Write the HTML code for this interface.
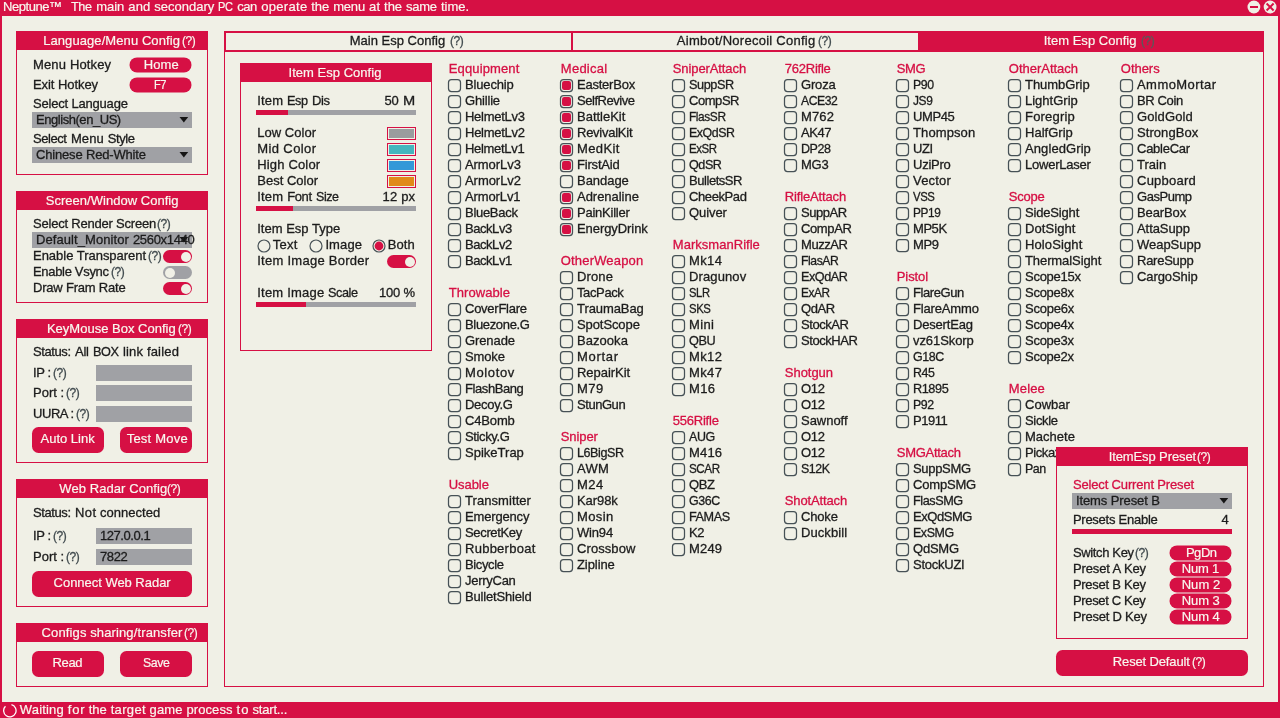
<!DOCTYPE html>
<html lang="en"><head><meta charset="utf-8"><title>Neptune</title>
<style>
*{box-sizing:border-box;margin:0;padding:0}
html,body{width:1280px;height:718px;overflow:hidden;background:#F0F0E6}
body{position:relative;font-family:"Liberation Sans",sans-serif;font-size:13px;color:#1c1c1c;line-height:16px;white-space:nowrap}
.a{position:absolute}
.t{position:absolute;height:16px;line-height:16px;white-space:pre;transform-origin:0 50%;-webkit-text-stroke:0.3px}
.s{display:inline-block;vertical-align:top;height:16px;transform-origin:0 50%;white-space:pre}
.r{color:#D61044}
.w{color:#F8F8EF;-webkit-text-stroke:0.2px}
.q{color:#3f494d}
.pn{position:absolute;border:1px solid #D61044}
.ph{position:absolute;left:0;top:0;right:0;height:18px;background:#D61044}
.btn{position:absolute;background:#D61044}
.sel{position:absolute;background:#A0A1A5;height:16px}
.arr{position:absolute;width:0;height:0;border-left:4.4px solid transparent;border-right:4.4px solid transparent;border-top:5.6px solid #151515}
.cb{position:absolute;width:13px;height:13px;border:1px solid #495358;border-radius:3px}
.cb.on::after{content:"";position:absolute;left:1px;top:1px;width:9px;height:9px;background:#D61044;border-radius:2.5px}
.tg{position:absolute;width:29px;margin-left:-1px;height:13px;border-radius:6.5px;background:#D61044}
.tg::after{content:"";position:absolute;right:1.5px;top:1.5px;width:10px;height:10px;border-radius:50%;background:#F0F0E6}
.tg.off{background:#A0A1A5}
.tg.off::after{right:auto;left:1.5px}
.sl{position:absolute;height:5px;background:#A0A1A5}
.sl i{position:absolute;left:0;top:0;height:5px;background:#D61044}
.sw{position:absolute;width:29px;height:13px;border:1px solid #D61044;padding:1px;background:#F0F0E6}
.sw i{display:block;width:100%;height:100%}
.rd{position:absolute;width:13px;height:13px;border:1px solid #4d5052;border-radius:50%}
.rd.on::after{content:"";position:absolute;left:1px;top:1px;width:9px;height:9px;border-radius:50%;background:#D61044}
</style></head>
<body>
<div class="a" style="left:0;top:0;width:1280px;height:16px;background:#D61044"></div>
<div class="a" style="left:0;top:0;width:2px;height:718px;background:#D61044"></div>
<div class="a" style="left:1278px;top:0;width:2px;height:718px;background:#D61044"></div>
<div class="a" style="left:0;top:702px;width:1280px;height:16px;background:#D61044"></div>
<svg class="a" style="left:1246px;top:0" width="32" height="14" viewBox="0 0 32 14"><circle cx="7.9" cy="7" r="6.4" fill="#F0F0E6"/><rect x="4" y="6" width="8" height="2" fill="#D61044"/><circle cx="24.1" cy="7" r="6.4" fill="#F0F0E6"/><path d="M20.6 3.5 L27.6 10.5 M27.6 3.5 L20.6 10.5" stroke="#D61044" stroke-width="1.9" fill="none"/></svg>
<svg class="a" style="left:3px;top:703px" width="15" height="15" viewBox="0 0 15 15"><path d="M8.45 1.7 A6.2 6.2 0 1 1 2.47 3.3" stroke="#fff" stroke-width="1.3" fill="none"/></svg>
<div class="pn" style="left:16px;top:31px;width:192px;height:144px"><div class="ph"></div></div>
<div class="btn" style="left:129px;top:57px;width:62.3px;height:15px;border-radius:7.5px;transform:translate(0.5px,0.4px)"></div>
<div class="btn" style="left:129px;top:77px;width:62.3px;height:15px;border-radius:7.5px;transform:translate(0.5px,0.4px)"></div>
<div class="sel" style="left:32px;top:112px;width:160px"></div>
<svg class="a" style="left:179px;top:116px" width="10" height="8" viewBox="0 0 10 8"><path d="M0.5 0.9 L9.2 0.9 L4.85 6.5 Z" fill="#151515"/></svg>
<div class="sel" style="left:32px;top:147px;width:160px"></div>
<svg class="a" style="left:179px;top:151px" width="10" height="8" viewBox="0 0 10 8"><path d="M0.5 0.9 L9.2 0.9 L4.85 6.5 Z" fill="#151515"/></svg>
<div class="pn" style="left:16px;top:191px;width:192px;height:112px"><div class="ph"></div></div>
<div class="sel" style="left:32px;top:232px;width:160px"></div>
<svg class="a" style="left:179px;top:236px" width="10" height="8" viewBox="0 0 10 8"><path d="M0.5 0.9 L9.2 0.9 L4.85 6.5 Z" fill="#151515"/></svg>
<div class="tg" style="left:164px;top:250px"></div>
<div class="tg off" style="left:164px;top:266px"></div>
<div class="tg" style="left:164px;top:282px"></div>
<div class="pn" style="left:16px;top:319px;width:192px;height:144px"><div class="ph"></div></div>
<div class="sel" style="left:96px;top:365px;width:96px"></div>
<div class="sel" style="left:96px;top:385px;width:96px"></div>
<div class="sel" style="left:96px;top:406px;width:96px"></div>
<div class="btn" style="left:32px;top:427px;width:72px;height:26px;border-radius:6.5px;"></div>
<div class="btn" style="left:120px;top:427px;width:72px;height:26px;border-radius:6.5px;"></div>
<div class="pn" style="left:16px;top:479px;width:192px;height:128px"><div class="ph"></div></div>
<div class="sel" style="left:96px;top:528px;width:96px"></div>
<div class="sel" style="left:96px;top:549px;width:96px"></div>
<div class="btn" style="left:32px;top:571px;width:160px;height:26px;border-radius:6.5px;"></div>
<div class="pn" style="left:16px;top:623px;width:192px;height:64px"><div class="ph"></div></div>
<div class="btn" style="left:32px;top:651px;width:72px;height:26px;border-radius:6.5px;"></div>
<div class="btn" style="left:120px;top:651px;width:72px;height:26px;border-radius:6.5px;"></div>
<div class="pn" style="left:224px;top:31px;width:1040px;height:656px"></div>
<div class="a" style="left:224px;top:31px;width:1040px;height:21px;border:2px solid #D61044"></div>
<div class="a" style="left:571px;top:31px;width:2px;height:21px;background:#D61044"></div>
<div class="a" style="left:918px;top:31px;width:346px;height:21px;background:#D61044"></div>
<div class="pn" style="left:240px;top:63px;width:192px;height:288px"><div class="ph"></div></div>
<div class="sl" style="left:256px;top:110px;width:160px"><i style="width:32px"></i></div>
<div class="sw" style="left:387px;top:127px"><i style="background:#9A9C9E"></i></div>
<div class="sw" style="left:387px;top:143px"><i style="background:#45B5BE"></i></div>
<div class="sw" style="left:387px;top:159px"><i style="background:#3398D8"></i></div>
<div class="sw" style="left:387px;top:175px"><i style="background:#E08A18"></i></div>
<div class="sl" style="left:256px;top:206px;width:160px"><i style="width:37px"></i></div>
<svg class="a" style="left:255.7px;top:237.5px" width="16" height="16" viewBox="0 0 16 16"><circle cx="8" cy="8" r="6" fill="none" stroke="#475156" stroke-width="1.2"/></svg>
<svg class="a" style="left:308.4px;top:237.5px" width="16" height="16" viewBox="0 0 16 16"><circle cx="8" cy="8" r="6" fill="none" stroke="#475156" stroke-width="1.2"/></svg>
<svg class="a" style="left:371.2px;top:237.5px" width="16" height="16" viewBox="0 0 16 16"><circle cx="8" cy="8" r="6" fill="none" stroke="#475156" stroke-width="1.2"/><circle cx="8" cy="8" r="4.4" fill="#D61044"/></svg>
<div class="tg" style="left:388px;top:255px"></div>
<div class="sl" style="left:256px;top:302px;width:160px"><i style="width:50px"></i></div>
<svg class="a" style="left:447px;top:78px" width="15" height="15" viewBox="0 0 15 15"><rect x="1.5" y="1.5" width="12" height="12" rx="3" fill="none" stroke="#465156" stroke-width="1.25"/></svg>
<svg class="a" style="left:447px;top:94px" width="15" height="15" viewBox="0 0 15 15"><rect x="1.5" y="1.5" width="12" height="12" rx="3" fill="none" stroke="#465156" stroke-width="1.25"/></svg>
<svg class="a" style="left:447px;top:110px" width="15" height="15" viewBox="0 0 15 15"><rect x="1.5" y="1.5" width="12" height="12" rx="3" fill="none" stroke="#465156" stroke-width="1.25"/></svg>
<svg class="a" style="left:447px;top:126px" width="15" height="15" viewBox="0 0 15 15"><rect x="1.5" y="1.5" width="12" height="12" rx="3" fill="none" stroke="#465156" stroke-width="1.25"/></svg>
<svg class="a" style="left:447px;top:142px" width="15" height="15" viewBox="0 0 15 15"><rect x="1.5" y="1.5" width="12" height="12" rx="3" fill="none" stroke="#465156" stroke-width="1.25"/></svg>
<svg class="a" style="left:447px;top:158px" width="15" height="15" viewBox="0 0 15 15"><rect x="1.5" y="1.5" width="12" height="12" rx="3" fill="none" stroke="#465156" stroke-width="1.25"/></svg>
<svg class="a" style="left:447px;top:174px" width="15" height="15" viewBox="0 0 15 15"><rect x="1.5" y="1.5" width="12" height="12" rx="3" fill="none" stroke="#465156" stroke-width="1.25"/></svg>
<svg class="a" style="left:447px;top:190px" width="15" height="15" viewBox="0 0 15 15"><rect x="1.5" y="1.5" width="12" height="12" rx="3" fill="none" stroke="#465156" stroke-width="1.25"/></svg>
<svg class="a" style="left:447px;top:206px" width="15" height="15" viewBox="0 0 15 15"><rect x="1.5" y="1.5" width="12" height="12" rx="3" fill="none" stroke="#465156" stroke-width="1.25"/></svg>
<svg class="a" style="left:447px;top:222px" width="15" height="15" viewBox="0 0 15 15"><rect x="1.5" y="1.5" width="12" height="12" rx="3" fill="none" stroke="#465156" stroke-width="1.25"/></svg>
<svg class="a" style="left:447px;top:238px" width="15" height="15" viewBox="0 0 15 15"><rect x="1.5" y="1.5" width="12" height="12" rx="3" fill="none" stroke="#465156" stroke-width="1.25"/></svg>
<svg class="a" style="left:447px;top:254px" width="15" height="15" viewBox="0 0 15 15"><rect x="1.5" y="1.5" width="12" height="12" rx="3" fill="none" stroke="#465156" stroke-width="1.25"/></svg>
<svg class="a" style="left:447px;top:302px" width="15" height="15" viewBox="0 0 15 15"><rect x="1.5" y="1.5" width="12" height="12" rx="3" fill="none" stroke="#465156" stroke-width="1.25"/></svg>
<svg class="a" style="left:447px;top:318px" width="15" height="15" viewBox="0 0 15 15"><rect x="1.5" y="1.5" width="12" height="12" rx="3" fill="none" stroke="#465156" stroke-width="1.25"/></svg>
<svg class="a" style="left:447px;top:334px" width="15" height="15" viewBox="0 0 15 15"><rect x="1.5" y="1.5" width="12" height="12" rx="3" fill="none" stroke="#465156" stroke-width="1.25"/></svg>
<svg class="a" style="left:447px;top:350px" width="15" height="15" viewBox="0 0 15 15"><rect x="1.5" y="1.5" width="12" height="12" rx="3" fill="none" stroke="#465156" stroke-width="1.25"/></svg>
<svg class="a" style="left:447px;top:366px" width="15" height="15" viewBox="0 0 15 15"><rect x="1.5" y="1.5" width="12" height="12" rx="3" fill="none" stroke="#465156" stroke-width="1.25"/></svg>
<svg class="a" style="left:447px;top:382px" width="15" height="15" viewBox="0 0 15 15"><rect x="1.5" y="1.5" width="12" height="12" rx="3" fill="none" stroke="#465156" stroke-width="1.25"/></svg>
<svg class="a" style="left:447px;top:398px" width="15" height="15" viewBox="0 0 15 15"><rect x="1.5" y="1.5" width="12" height="12" rx="3" fill="none" stroke="#465156" stroke-width="1.25"/></svg>
<svg class="a" style="left:447px;top:414px" width="15" height="15" viewBox="0 0 15 15"><rect x="1.5" y="1.5" width="12" height="12" rx="3" fill="none" stroke="#465156" stroke-width="1.25"/></svg>
<svg class="a" style="left:447px;top:430px" width="15" height="15" viewBox="0 0 15 15"><rect x="1.5" y="1.5" width="12" height="12" rx="3" fill="none" stroke="#465156" stroke-width="1.25"/></svg>
<svg class="a" style="left:447px;top:446px" width="15" height="15" viewBox="0 0 15 15"><rect x="1.5" y="1.5" width="12" height="12" rx="3" fill="none" stroke="#465156" stroke-width="1.25"/></svg>
<svg class="a" style="left:447px;top:494px" width="15" height="15" viewBox="0 0 15 15"><rect x="1.5" y="1.5" width="12" height="12" rx="3" fill="none" stroke="#465156" stroke-width="1.25"/></svg>
<svg class="a" style="left:447px;top:510px" width="15" height="15" viewBox="0 0 15 15"><rect x="1.5" y="1.5" width="12" height="12" rx="3" fill="none" stroke="#465156" stroke-width="1.25"/></svg>
<svg class="a" style="left:447px;top:526px" width="15" height="15" viewBox="0 0 15 15"><rect x="1.5" y="1.5" width="12" height="12" rx="3" fill="none" stroke="#465156" stroke-width="1.25"/></svg>
<svg class="a" style="left:447px;top:542px" width="15" height="15" viewBox="0 0 15 15"><rect x="1.5" y="1.5" width="12" height="12" rx="3" fill="none" stroke="#465156" stroke-width="1.25"/></svg>
<svg class="a" style="left:447px;top:558px" width="15" height="15" viewBox="0 0 15 15"><rect x="1.5" y="1.5" width="12" height="12" rx="3" fill="none" stroke="#465156" stroke-width="1.25"/></svg>
<svg class="a" style="left:447px;top:574px" width="15" height="15" viewBox="0 0 15 15"><rect x="1.5" y="1.5" width="12" height="12" rx="3" fill="none" stroke="#465156" stroke-width="1.25"/></svg>
<svg class="a" style="left:447px;top:590px" width="15" height="15" viewBox="0 0 15 15"><rect x="1.5" y="1.5" width="12" height="12" rx="3" fill="none" stroke="#465156" stroke-width="1.25"/></svg>
<svg class="a" style="left:559px;top:78px" width="15" height="15" viewBox="0 0 15 15"><rect x="1.5" y="1.5" width="12" height="12" rx="3" fill="none" stroke="#465156" stroke-width="1.25"/><rect x="3" y="3" width="9" height="9" rx="2.2" fill="#D61044"/></svg>
<svg class="a" style="left:559px;top:94px" width="15" height="15" viewBox="0 0 15 15"><rect x="1.5" y="1.5" width="12" height="12" rx="3" fill="none" stroke="#465156" stroke-width="1.25"/><rect x="3" y="3" width="9" height="9" rx="2.2" fill="#D61044"/></svg>
<svg class="a" style="left:559px;top:110px" width="15" height="15" viewBox="0 0 15 15"><rect x="1.5" y="1.5" width="12" height="12" rx="3" fill="none" stroke="#465156" stroke-width="1.25"/><rect x="3" y="3" width="9" height="9" rx="2.2" fill="#D61044"/></svg>
<svg class="a" style="left:559px;top:126px" width="15" height="15" viewBox="0 0 15 15"><rect x="1.5" y="1.5" width="12" height="12" rx="3" fill="none" stroke="#465156" stroke-width="1.25"/><rect x="3" y="3" width="9" height="9" rx="2.2" fill="#D61044"/></svg>
<svg class="a" style="left:559px;top:142px" width="15" height="15" viewBox="0 0 15 15"><rect x="1.5" y="1.5" width="12" height="12" rx="3" fill="none" stroke="#465156" stroke-width="1.25"/><rect x="3" y="3" width="9" height="9" rx="2.2" fill="#D61044"/></svg>
<svg class="a" style="left:559px;top:158px" width="15" height="15" viewBox="0 0 15 15"><rect x="1.5" y="1.5" width="12" height="12" rx="3" fill="none" stroke="#465156" stroke-width="1.25"/><rect x="3" y="3" width="9" height="9" rx="2.2" fill="#D61044"/></svg>
<svg class="a" style="left:559px;top:174px" width="15" height="15" viewBox="0 0 15 15"><rect x="1.5" y="1.5" width="12" height="12" rx="3" fill="none" stroke="#465156" stroke-width="1.25"/></svg>
<svg class="a" style="left:559px;top:190px" width="15" height="15" viewBox="0 0 15 15"><rect x="1.5" y="1.5" width="12" height="12" rx="3" fill="none" stroke="#465156" stroke-width="1.25"/><rect x="3" y="3" width="9" height="9" rx="2.2" fill="#D61044"/></svg>
<svg class="a" style="left:559px;top:206px" width="15" height="15" viewBox="0 0 15 15"><rect x="1.5" y="1.5" width="12" height="12" rx="3" fill="none" stroke="#465156" stroke-width="1.25"/><rect x="3" y="3" width="9" height="9" rx="2.2" fill="#D61044"/></svg>
<svg class="a" style="left:559px;top:222px" width="15" height="15" viewBox="0 0 15 15"><rect x="1.5" y="1.5" width="12" height="12" rx="3" fill="none" stroke="#465156" stroke-width="1.25"/><rect x="3" y="3" width="9" height="9" rx="2.2" fill="#D61044"/></svg>
<svg class="a" style="left:559px;top:270px" width="15" height="15" viewBox="0 0 15 15"><rect x="1.5" y="1.5" width="12" height="12" rx="3" fill="none" stroke="#465156" stroke-width="1.25"/></svg>
<svg class="a" style="left:559px;top:286px" width="15" height="15" viewBox="0 0 15 15"><rect x="1.5" y="1.5" width="12" height="12" rx="3" fill="none" stroke="#465156" stroke-width="1.25"/></svg>
<svg class="a" style="left:559px;top:302px" width="15" height="15" viewBox="0 0 15 15"><rect x="1.5" y="1.5" width="12" height="12" rx="3" fill="none" stroke="#465156" stroke-width="1.25"/></svg>
<svg class="a" style="left:559px;top:318px" width="15" height="15" viewBox="0 0 15 15"><rect x="1.5" y="1.5" width="12" height="12" rx="3" fill="none" stroke="#465156" stroke-width="1.25"/></svg>
<svg class="a" style="left:559px;top:334px" width="15" height="15" viewBox="0 0 15 15"><rect x="1.5" y="1.5" width="12" height="12" rx="3" fill="none" stroke="#465156" stroke-width="1.25"/></svg>
<svg class="a" style="left:559px;top:350px" width="15" height="15" viewBox="0 0 15 15"><rect x="1.5" y="1.5" width="12" height="12" rx="3" fill="none" stroke="#465156" stroke-width="1.25"/></svg>
<svg class="a" style="left:559px;top:366px" width="15" height="15" viewBox="0 0 15 15"><rect x="1.5" y="1.5" width="12" height="12" rx="3" fill="none" stroke="#465156" stroke-width="1.25"/></svg>
<svg class="a" style="left:559px;top:382px" width="15" height="15" viewBox="0 0 15 15"><rect x="1.5" y="1.5" width="12" height="12" rx="3" fill="none" stroke="#465156" stroke-width="1.25"/></svg>
<svg class="a" style="left:559px;top:398px" width="15" height="15" viewBox="0 0 15 15"><rect x="1.5" y="1.5" width="12" height="12" rx="3" fill="none" stroke="#465156" stroke-width="1.25"/></svg>
<svg class="a" style="left:559px;top:446px" width="15" height="15" viewBox="0 0 15 15"><rect x="1.5" y="1.5" width="12" height="12" rx="3" fill="none" stroke="#465156" stroke-width="1.25"/></svg>
<svg class="a" style="left:559px;top:462px" width="15" height="15" viewBox="0 0 15 15"><rect x="1.5" y="1.5" width="12" height="12" rx="3" fill="none" stroke="#465156" stroke-width="1.25"/></svg>
<svg class="a" style="left:559px;top:478px" width="15" height="15" viewBox="0 0 15 15"><rect x="1.5" y="1.5" width="12" height="12" rx="3" fill="none" stroke="#465156" stroke-width="1.25"/></svg>
<svg class="a" style="left:559px;top:494px" width="15" height="15" viewBox="0 0 15 15"><rect x="1.5" y="1.5" width="12" height="12" rx="3" fill="none" stroke="#465156" stroke-width="1.25"/></svg>
<svg class="a" style="left:559px;top:510px" width="15" height="15" viewBox="0 0 15 15"><rect x="1.5" y="1.5" width="12" height="12" rx="3" fill="none" stroke="#465156" stroke-width="1.25"/></svg>
<svg class="a" style="left:559px;top:526px" width="15" height="15" viewBox="0 0 15 15"><rect x="1.5" y="1.5" width="12" height="12" rx="3" fill="none" stroke="#465156" stroke-width="1.25"/></svg>
<svg class="a" style="left:559px;top:542px" width="15" height="15" viewBox="0 0 15 15"><rect x="1.5" y="1.5" width="12" height="12" rx="3" fill="none" stroke="#465156" stroke-width="1.25"/></svg>
<svg class="a" style="left:559px;top:558px" width="15" height="15" viewBox="0 0 15 15"><rect x="1.5" y="1.5" width="12" height="12" rx="3" fill="none" stroke="#465156" stroke-width="1.25"/></svg>
<svg class="a" style="left:671px;top:78px" width="15" height="15" viewBox="0 0 15 15"><rect x="1.5" y="1.5" width="12" height="12" rx="3" fill="none" stroke="#465156" stroke-width="1.25"/></svg>
<svg class="a" style="left:671px;top:94px" width="15" height="15" viewBox="0 0 15 15"><rect x="1.5" y="1.5" width="12" height="12" rx="3" fill="none" stroke="#465156" stroke-width="1.25"/></svg>
<svg class="a" style="left:671px;top:110px" width="15" height="15" viewBox="0 0 15 15"><rect x="1.5" y="1.5" width="12" height="12" rx="3" fill="none" stroke="#465156" stroke-width="1.25"/></svg>
<svg class="a" style="left:671px;top:126px" width="15" height="15" viewBox="0 0 15 15"><rect x="1.5" y="1.5" width="12" height="12" rx="3" fill="none" stroke="#465156" stroke-width="1.25"/></svg>
<svg class="a" style="left:671px;top:142px" width="15" height="15" viewBox="0 0 15 15"><rect x="1.5" y="1.5" width="12" height="12" rx="3" fill="none" stroke="#465156" stroke-width="1.25"/></svg>
<svg class="a" style="left:671px;top:158px" width="15" height="15" viewBox="0 0 15 15"><rect x="1.5" y="1.5" width="12" height="12" rx="3" fill="none" stroke="#465156" stroke-width="1.25"/></svg>
<svg class="a" style="left:671px;top:174px" width="15" height="15" viewBox="0 0 15 15"><rect x="1.5" y="1.5" width="12" height="12" rx="3" fill="none" stroke="#465156" stroke-width="1.25"/></svg>
<svg class="a" style="left:671px;top:190px" width="15" height="15" viewBox="0 0 15 15"><rect x="1.5" y="1.5" width="12" height="12" rx="3" fill="none" stroke="#465156" stroke-width="1.25"/></svg>
<svg class="a" style="left:671px;top:206px" width="15" height="15" viewBox="0 0 15 15"><rect x="1.5" y="1.5" width="12" height="12" rx="3" fill="none" stroke="#465156" stroke-width="1.25"/></svg>
<svg class="a" style="left:671px;top:254px" width="15" height="15" viewBox="0 0 15 15"><rect x="1.5" y="1.5" width="12" height="12" rx="3" fill="none" stroke="#465156" stroke-width="1.25"/></svg>
<svg class="a" style="left:671px;top:270px" width="15" height="15" viewBox="0 0 15 15"><rect x="1.5" y="1.5" width="12" height="12" rx="3" fill="none" stroke="#465156" stroke-width="1.25"/></svg>
<svg class="a" style="left:671px;top:286px" width="15" height="15" viewBox="0 0 15 15"><rect x="1.5" y="1.5" width="12" height="12" rx="3" fill="none" stroke="#465156" stroke-width="1.25"/></svg>
<svg class="a" style="left:671px;top:302px" width="15" height="15" viewBox="0 0 15 15"><rect x="1.5" y="1.5" width="12" height="12" rx="3" fill="none" stroke="#465156" stroke-width="1.25"/></svg>
<svg class="a" style="left:671px;top:318px" width="15" height="15" viewBox="0 0 15 15"><rect x="1.5" y="1.5" width="12" height="12" rx="3" fill="none" stroke="#465156" stroke-width="1.25"/></svg>
<svg class="a" style="left:671px;top:334px" width="15" height="15" viewBox="0 0 15 15"><rect x="1.5" y="1.5" width="12" height="12" rx="3" fill="none" stroke="#465156" stroke-width="1.25"/></svg>
<svg class="a" style="left:671px;top:350px" width="15" height="15" viewBox="0 0 15 15"><rect x="1.5" y="1.5" width="12" height="12" rx="3" fill="none" stroke="#465156" stroke-width="1.25"/></svg>
<svg class="a" style="left:671px;top:366px" width="15" height="15" viewBox="0 0 15 15"><rect x="1.5" y="1.5" width="12" height="12" rx="3" fill="none" stroke="#465156" stroke-width="1.25"/></svg>
<svg class="a" style="left:671px;top:382px" width="15" height="15" viewBox="0 0 15 15"><rect x="1.5" y="1.5" width="12" height="12" rx="3" fill="none" stroke="#465156" stroke-width="1.25"/></svg>
<svg class="a" style="left:671px;top:430px" width="15" height="15" viewBox="0 0 15 15"><rect x="1.5" y="1.5" width="12" height="12" rx="3" fill="none" stroke="#465156" stroke-width="1.25"/></svg>
<svg class="a" style="left:671px;top:446px" width="15" height="15" viewBox="0 0 15 15"><rect x="1.5" y="1.5" width="12" height="12" rx="3" fill="none" stroke="#465156" stroke-width="1.25"/></svg>
<svg class="a" style="left:671px;top:462px" width="15" height="15" viewBox="0 0 15 15"><rect x="1.5" y="1.5" width="12" height="12" rx="3" fill="none" stroke="#465156" stroke-width="1.25"/></svg>
<svg class="a" style="left:671px;top:478px" width="15" height="15" viewBox="0 0 15 15"><rect x="1.5" y="1.5" width="12" height="12" rx="3" fill="none" stroke="#465156" stroke-width="1.25"/></svg>
<svg class="a" style="left:671px;top:494px" width="15" height="15" viewBox="0 0 15 15"><rect x="1.5" y="1.5" width="12" height="12" rx="3" fill="none" stroke="#465156" stroke-width="1.25"/></svg>
<svg class="a" style="left:671px;top:510px" width="15" height="15" viewBox="0 0 15 15"><rect x="1.5" y="1.5" width="12" height="12" rx="3" fill="none" stroke="#465156" stroke-width="1.25"/></svg>
<svg class="a" style="left:671px;top:526px" width="15" height="15" viewBox="0 0 15 15"><rect x="1.5" y="1.5" width="12" height="12" rx="3" fill="none" stroke="#465156" stroke-width="1.25"/></svg>
<svg class="a" style="left:671px;top:542px" width="15" height="15" viewBox="0 0 15 15"><rect x="1.5" y="1.5" width="12" height="12" rx="3" fill="none" stroke="#465156" stroke-width="1.25"/></svg>
<svg class="a" style="left:783px;top:78px" width="15" height="15" viewBox="0 0 15 15"><rect x="1.5" y="1.5" width="12" height="12" rx="3" fill="none" stroke="#465156" stroke-width="1.25"/></svg>
<svg class="a" style="left:783px;top:94px" width="15" height="15" viewBox="0 0 15 15"><rect x="1.5" y="1.5" width="12" height="12" rx="3" fill="none" stroke="#465156" stroke-width="1.25"/></svg>
<svg class="a" style="left:783px;top:110px" width="15" height="15" viewBox="0 0 15 15"><rect x="1.5" y="1.5" width="12" height="12" rx="3" fill="none" stroke="#465156" stroke-width="1.25"/></svg>
<svg class="a" style="left:783px;top:126px" width="15" height="15" viewBox="0 0 15 15"><rect x="1.5" y="1.5" width="12" height="12" rx="3" fill="none" stroke="#465156" stroke-width="1.25"/></svg>
<svg class="a" style="left:783px;top:142px" width="15" height="15" viewBox="0 0 15 15"><rect x="1.5" y="1.5" width="12" height="12" rx="3" fill="none" stroke="#465156" stroke-width="1.25"/></svg>
<svg class="a" style="left:783px;top:158px" width="15" height="15" viewBox="0 0 15 15"><rect x="1.5" y="1.5" width="12" height="12" rx="3" fill="none" stroke="#465156" stroke-width="1.25"/></svg>
<svg class="a" style="left:783px;top:206px" width="15" height="15" viewBox="0 0 15 15"><rect x="1.5" y="1.5" width="12" height="12" rx="3" fill="none" stroke="#465156" stroke-width="1.25"/></svg>
<svg class="a" style="left:783px;top:222px" width="15" height="15" viewBox="0 0 15 15"><rect x="1.5" y="1.5" width="12" height="12" rx="3" fill="none" stroke="#465156" stroke-width="1.25"/></svg>
<svg class="a" style="left:783px;top:238px" width="15" height="15" viewBox="0 0 15 15"><rect x="1.5" y="1.5" width="12" height="12" rx="3" fill="none" stroke="#465156" stroke-width="1.25"/></svg>
<svg class="a" style="left:783px;top:254px" width="15" height="15" viewBox="0 0 15 15"><rect x="1.5" y="1.5" width="12" height="12" rx="3" fill="none" stroke="#465156" stroke-width="1.25"/></svg>
<svg class="a" style="left:783px;top:270px" width="15" height="15" viewBox="0 0 15 15"><rect x="1.5" y="1.5" width="12" height="12" rx="3" fill="none" stroke="#465156" stroke-width="1.25"/></svg>
<svg class="a" style="left:783px;top:286px" width="15" height="15" viewBox="0 0 15 15"><rect x="1.5" y="1.5" width="12" height="12" rx="3" fill="none" stroke="#465156" stroke-width="1.25"/></svg>
<svg class="a" style="left:783px;top:302px" width="15" height="15" viewBox="0 0 15 15"><rect x="1.5" y="1.5" width="12" height="12" rx="3" fill="none" stroke="#465156" stroke-width="1.25"/></svg>
<svg class="a" style="left:783px;top:318px" width="15" height="15" viewBox="0 0 15 15"><rect x="1.5" y="1.5" width="12" height="12" rx="3" fill="none" stroke="#465156" stroke-width="1.25"/></svg>
<svg class="a" style="left:783px;top:334px" width="15" height="15" viewBox="0 0 15 15"><rect x="1.5" y="1.5" width="12" height="12" rx="3" fill="none" stroke="#465156" stroke-width="1.25"/></svg>
<svg class="a" style="left:783px;top:382px" width="15" height="15" viewBox="0 0 15 15"><rect x="1.5" y="1.5" width="12" height="12" rx="3" fill="none" stroke="#465156" stroke-width="1.25"/></svg>
<svg class="a" style="left:783px;top:398px" width="15" height="15" viewBox="0 0 15 15"><rect x="1.5" y="1.5" width="12" height="12" rx="3" fill="none" stroke="#465156" stroke-width="1.25"/></svg>
<svg class="a" style="left:783px;top:414px" width="15" height="15" viewBox="0 0 15 15"><rect x="1.5" y="1.5" width="12" height="12" rx="3" fill="none" stroke="#465156" stroke-width="1.25"/></svg>
<svg class="a" style="left:783px;top:430px" width="15" height="15" viewBox="0 0 15 15"><rect x="1.5" y="1.5" width="12" height="12" rx="3" fill="none" stroke="#465156" stroke-width="1.25"/></svg>
<svg class="a" style="left:783px;top:446px" width="15" height="15" viewBox="0 0 15 15"><rect x="1.5" y="1.5" width="12" height="12" rx="3" fill="none" stroke="#465156" stroke-width="1.25"/></svg>
<svg class="a" style="left:783px;top:462px" width="15" height="15" viewBox="0 0 15 15"><rect x="1.5" y="1.5" width="12" height="12" rx="3" fill="none" stroke="#465156" stroke-width="1.25"/></svg>
<svg class="a" style="left:783px;top:510px" width="15" height="15" viewBox="0 0 15 15"><rect x="1.5" y="1.5" width="12" height="12" rx="3" fill="none" stroke="#465156" stroke-width="1.25"/></svg>
<svg class="a" style="left:783px;top:526px" width="15" height="15" viewBox="0 0 15 15"><rect x="1.5" y="1.5" width="12" height="12" rx="3" fill="none" stroke="#465156" stroke-width="1.25"/></svg>
<svg class="a" style="left:895px;top:78px" width="15" height="15" viewBox="0 0 15 15"><rect x="1.5" y="1.5" width="12" height="12" rx="3" fill="none" stroke="#465156" stroke-width="1.25"/></svg>
<svg class="a" style="left:895px;top:94px" width="15" height="15" viewBox="0 0 15 15"><rect x="1.5" y="1.5" width="12" height="12" rx="3" fill="none" stroke="#465156" stroke-width="1.25"/></svg>
<svg class="a" style="left:895px;top:110px" width="15" height="15" viewBox="0 0 15 15"><rect x="1.5" y="1.5" width="12" height="12" rx="3" fill="none" stroke="#465156" stroke-width="1.25"/></svg>
<svg class="a" style="left:895px;top:126px" width="15" height="15" viewBox="0 0 15 15"><rect x="1.5" y="1.5" width="12" height="12" rx="3" fill="none" stroke="#465156" stroke-width="1.25"/></svg>
<svg class="a" style="left:895px;top:142px" width="15" height="15" viewBox="0 0 15 15"><rect x="1.5" y="1.5" width="12" height="12" rx="3" fill="none" stroke="#465156" stroke-width="1.25"/></svg>
<svg class="a" style="left:895px;top:158px" width="15" height="15" viewBox="0 0 15 15"><rect x="1.5" y="1.5" width="12" height="12" rx="3" fill="none" stroke="#465156" stroke-width="1.25"/></svg>
<svg class="a" style="left:895px;top:174px" width="15" height="15" viewBox="0 0 15 15"><rect x="1.5" y="1.5" width="12" height="12" rx="3" fill="none" stroke="#465156" stroke-width="1.25"/></svg>
<svg class="a" style="left:895px;top:190px" width="15" height="15" viewBox="0 0 15 15"><rect x="1.5" y="1.5" width="12" height="12" rx="3" fill="none" stroke="#465156" stroke-width="1.25"/></svg>
<svg class="a" style="left:895px;top:206px" width="15" height="15" viewBox="0 0 15 15"><rect x="1.5" y="1.5" width="12" height="12" rx="3" fill="none" stroke="#465156" stroke-width="1.25"/></svg>
<svg class="a" style="left:895px;top:222px" width="15" height="15" viewBox="0 0 15 15"><rect x="1.5" y="1.5" width="12" height="12" rx="3" fill="none" stroke="#465156" stroke-width="1.25"/></svg>
<svg class="a" style="left:895px;top:238px" width="15" height="15" viewBox="0 0 15 15"><rect x="1.5" y="1.5" width="12" height="12" rx="3" fill="none" stroke="#465156" stroke-width="1.25"/></svg>
<svg class="a" style="left:895px;top:286px" width="15" height="15" viewBox="0 0 15 15"><rect x="1.5" y="1.5" width="12" height="12" rx="3" fill="none" stroke="#465156" stroke-width="1.25"/></svg>
<svg class="a" style="left:895px;top:302px" width="15" height="15" viewBox="0 0 15 15"><rect x="1.5" y="1.5" width="12" height="12" rx="3" fill="none" stroke="#465156" stroke-width="1.25"/></svg>
<svg class="a" style="left:895px;top:318px" width="15" height="15" viewBox="0 0 15 15"><rect x="1.5" y="1.5" width="12" height="12" rx="3" fill="none" stroke="#465156" stroke-width="1.25"/></svg>
<svg class="a" style="left:895px;top:334px" width="15" height="15" viewBox="0 0 15 15"><rect x="1.5" y="1.5" width="12" height="12" rx="3" fill="none" stroke="#465156" stroke-width="1.25"/></svg>
<svg class="a" style="left:895px;top:350px" width="15" height="15" viewBox="0 0 15 15"><rect x="1.5" y="1.5" width="12" height="12" rx="3" fill="none" stroke="#465156" stroke-width="1.25"/></svg>
<svg class="a" style="left:895px;top:366px" width="15" height="15" viewBox="0 0 15 15"><rect x="1.5" y="1.5" width="12" height="12" rx="3" fill="none" stroke="#465156" stroke-width="1.25"/></svg>
<svg class="a" style="left:895px;top:382px" width="15" height="15" viewBox="0 0 15 15"><rect x="1.5" y="1.5" width="12" height="12" rx="3" fill="none" stroke="#465156" stroke-width="1.25"/></svg>
<svg class="a" style="left:895px;top:398px" width="15" height="15" viewBox="0 0 15 15"><rect x="1.5" y="1.5" width="12" height="12" rx="3" fill="none" stroke="#465156" stroke-width="1.25"/></svg>
<svg class="a" style="left:895px;top:414px" width="15" height="15" viewBox="0 0 15 15"><rect x="1.5" y="1.5" width="12" height="12" rx="3" fill="none" stroke="#465156" stroke-width="1.25"/></svg>
<svg class="a" style="left:895px;top:462px" width="15" height="15" viewBox="0 0 15 15"><rect x="1.5" y="1.5" width="12" height="12" rx="3" fill="none" stroke="#465156" stroke-width="1.25"/></svg>
<svg class="a" style="left:895px;top:478px" width="15" height="15" viewBox="0 0 15 15"><rect x="1.5" y="1.5" width="12" height="12" rx="3" fill="none" stroke="#465156" stroke-width="1.25"/></svg>
<svg class="a" style="left:895px;top:494px" width="15" height="15" viewBox="0 0 15 15"><rect x="1.5" y="1.5" width="12" height="12" rx="3" fill="none" stroke="#465156" stroke-width="1.25"/></svg>
<svg class="a" style="left:895px;top:510px" width="15" height="15" viewBox="0 0 15 15"><rect x="1.5" y="1.5" width="12" height="12" rx="3" fill="none" stroke="#465156" stroke-width="1.25"/></svg>
<svg class="a" style="left:895px;top:526px" width="15" height="15" viewBox="0 0 15 15"><rect x="1.5" y="1.5" width="12" height="12" rx="3" fill="none" stroke="#465156" stroke-width="1.25"/></svg>
<svg class="a" style="left:895px;top:542px" width="15" height="15" viewBox="0 0 15 15"><rect x="1.5" y="1.5" width="12" height="12" rx="3" fill="none" stroke="#465156" stroke-width="1.25"/></svg>
<svg class="a" style="left:895px;top:558px" width="15" height="15" viewBox="0 0 15 15"><rect x="1.5" y="1.5" width="12" height="12" rx="3" fill="none" stroke="#465156" stroke-width="1.25"/></svg>
<svg class="a" style="left:1007px;top:78px" width="15" height="15" viewBox="0 0 15 15"><rect x="1.5" y="1.5" width="12" height="12" rx="3" fill="none" stroke="#465156" stroke-width="1.25"/></svg>
<svg class="a" style="left:1007px;top:94px" width="15" height="15" viewBox="0 0 15 15"><rect x="1.5" y="1.5" width="12" height="12" rx="3" fill="none" stroke="#465156" stroke-width="1.25"/></svg>
<svg class="a" style="left:1007px;top:110px" width="15" height="15" viewBox="0 0 15 15"><rect x="1.5" y="1.5" width="12" height="12" rx="3" fill="none" stroke="#465156" stroke-width="1.25"/></svg>
<svg class="a" style="left:1007px;top:126px" width="15" height="15" viewBox="0 0 15 15"><rect x="1.5" y="1.5" width="12" height="12" rx="3" fill="none" stroke="#465156" stroke-width="1.25"/></svg>
<svg class="a" style="left:1007px;top:142px" width="15" height="15" viewBox="0 0 15 15"><rect x="1.5" y="1.5" width="12" height="12" rx="3" fill="none" stroke="#465156" stroke-width="1.25"/></svg>
<svg class="a" style="left:1007px;top:158px" width="15" height="15" viewBox="0 0 15 15"><rect x="1.5" y="1.5" width="12" height="12" rx="3" fill="none" stroke="#465156" stroke-width="1.25"/></svg>
<svg class="a" style="left:1007px;top:206px" width="15" height="15" viewBox="0 0 15 15"><rect x="1.5" y="1.5" width="12" height="12" rx="3" fill="none" stroke="#465156" stroke-width="1.25"/></svg>
<svg class="a" style="left:1007px;top:222px" width="15" height="15" viewBox="0 0 15 15"><rect x="1.5" y="1.5" width="12" height="12" rx="3" fill="none" stroke="#465156" stroke-width="1.25"/></svg>
<svg class="a" style="left:1007px;top:238px" width="15" height="15" viewBox="0 0 15 15"><rect x="1.5" y="1.5" width="12" height="12" rx="3" fill="none" stroke="#465156" stroke-width="1.25"/></svg>
<svg class="a" style="left:1007px;top:254px" width="15" height="15" viewBox="0 0 15 15"><rect x="1.5" y="1.5" width="12" height="12" rx="3" fill="none" stroke="#465156" stroke-width="1.25"/></svg>
<svg class="a" style="left:1007px;top:270px" width="15" height="15" viewBox="0 0 15 15"><rect x="1.5" y="1.5" width="12" height="12" rx="3" fill="none" stroke="#465156" stroke-width="1.25"/></svg>
<svg class="a" style="left:1007px;top:286px" width="15" height="15" viewBox="0 0 15 15"><rect x="1.5" y="1.5" width="12" height="12" rx="3" fill="none" stroke="#465156" stroke-width="1.25"/></svg>
<svg class="a" style="left:1007px;top:302px" width="15" height="15" viewBox="0 0 15 15"><rect x="1.5" y="1.5" width="12" height="12" rx="3" fill="none" stroke="#465156" stroke-width="1.25"/></svg>
<svg class="a" style="left:1007px;top:318px" width="15" height="15" viewBox="0 0 15 15"><rect x="1.5" y="1.5" width="12" height="12" rx="3" fill="none" stroke="#465156" stroke-width="1.25"/></svg>
<svg class="a" style="left:1007px;top:334px" width="15" height="15" viewBox="0 0 15 15"><rect x="1.5" y="1.5" width="12" height="12" rx="3" fill="none" stroke="#465156" stroke-width="1.25"/></svg>
<svg class="a" style="left:1007px;top:350px" width="15" height="15" viewBox="0 0 15 15"><rect x="1.5" y="1.5" width="12" height="12" rx="3" fill="none" stroke="#465156" stroke-width="1.25"/></svg>
<svg class="a" style="left:1007px;top:398px" width="15" height="15" viewBox="0 0 15 15"><rect x="1.5" y="1.5" width="12" height="12" rx="3" fill="none" stroke="#465156" stroke-width="1.25"/></svg>
<svg class="a" style="left:1007px;top:414px" width="15" height="15" viewBox="0 0 15 15"><rect x="1.5" y="1.5" width="12" height="12" rx="3" fill="none" stroke="#465156" stroke-width="1.25"/></svg>
<svg class="a" style="left:1007px;top:430px" width="15" height="15" viewBox="0 0 15 15"><rect x="1.5" y="1.5" width="12" height="12" rx="3" fill="none" stroke="#465156" stroke-width="1.25"/></svg>
<svg class="a" style="left:1007px;top:446px" width="15" height="15" viewBox="0 0 15 15"><rect x="1.5" y="1.5" width="12" height="12" rx="3" fill="none" stroke="#465156" stroke-width="1.25"/></svg>
<svg class="a" style="left:1007px;top:462px" width="15" height="15" viewBox="0 0 15 15"><rect x="1.5" y="1.5" width="12" height="12" rx="3" fill="none" stroke="#465156" stroke-width="1.25"/></svg>
<svg class="a" style="left:1119px;top:78px" width="15" height="15" viewBox="0 0 15 15"><rect x="1.5" y="1.5" width="12" height="12" rx="3" fill="none" stroke="#465156" stroke-width="1.25"/></svg>
<svg class="a" style="left:1119px;top:94px" width="15" height="15" viewBox="0 0 15 15"><rect x="1.5" y="1.5" width="12" height="12" rx="3" fill="none" stroke="#465156" stroke-width="1.25"/></svg>
<svg class="a" style="left:1119px;top:110px" width="15" height="15" viewBox="0 0 15 15"><rect x="1.5" y="1.5" width="12" height="12" rx="3" fill="none" stroke="#465156" stroke-width="1.25"/></svg>
<svg class="a" style="left:1119px;top:126px" width="15" height="15" viewBox="0 0 15 15"><rect x="1.5" y="1.5" width="12" height="12" rx="3" fill="none" stroke="#465156" stroke-width="1.25"/></svg>
<svg class="a" style="left:1119px;top:142px" width="15" height="15" viewBox="0 0 15 15"><rect x="1.5" y="1.5" width="12" height="12" rx="3" fill="none" stroke="#465156" stroke-width="1.25"/></svg>
<svg class="a" style="left:1119px;top:158px" width="15" height="15" viewBox="0 0 15 15"><rect x="1.5" y="1.5" width="12" height="12" rx="3" fill="none" stroke="#465156" stroke-width="1.25"/></svg>
<svg class="a" style="left:1119px;top:174px" width="15" height="15" viewBox="0 0 15 15"><rect x="1.5" y="1.5" width="12" height="12" rx="3" fill="none" stroke="#465156" stroke-width="1.25"/></svg>
<svg class="a" style="left:1119px;top:190px" width="15" height="15" viewBox="0 0 15 15"><rect x="1.5" y="1.5" width="12" height="12" rx="3" fill="none" stroke="#465156" stroke-width="1.25"/></svg>
<svg class="a" style="left:1119px;top:206px" width="15" height="15" viewBox="0 0 15 15"><rect x="1.5" y="1.5" width="12" height="12" rx="3" fill="none" stroke="#465156" stroke-width="1.25"/></svg>
<svg class="a" style="left:1119px;top:222px" width="15" height="15" viewBox="0 0 15 15"><rect x="1.5" y="1.5" width="12" height="12" rx="3" fill="none" stroke="#465156" stroke-width="1.25"/></svg>
<svg class="a" style="left:1119px;top:238px" width="15" height="15" viewBox="0 0 15 15"><rect x="1.5" y="1.5" width="12" height="12" rx="3" fill="none" stroke="#465156" stroke-width="1.25"/></svg>
<svg class="a" style="left:1119px;top:254px" width="15" height="15" viewBox="0 0 15 15"><rect x="1.5" y="1.5" width="12" height="12" rx="3" fill="none" stroke="#465156" stroke-width="1.25"/></svg>
<svg class="a" style="left:1119px;top:270px" width="15" height="15" viewBox="0 0 15 15"><rect x="1.5" y="1.5" width="12" height="12" rx="3" fill="none" stroke="#465156" stroke-width="1.25"/></svg>
<div class="t w" style="left:3.0px;top:-1px;letter-spacing:-0.45px;">Neptune™</div>
<div class="t w" style="left:71.3px;top:-1px;"><span class="s" style="width:24.99px;letter-spacing:-0.45px;transform:scaleX(0.976);">The </span><span class="s" style="width:31.99px;letter-spacing:-0.07px;">main </span><span class="s" style="width:25.99px;letter-spacing:0.14px;">and </span><span class="s" style="width:63.97px;">secondary </span><span class="s" style="width:18.99px;letter-spacing:-0.45px;transform:scaleX(0.851);">PC </span><span class="s" style="width:23.99px;letter-spacing:-0.45px;">can </span><span class="s" style="width:49.98px;letter-spacing:0.31px;">operate </span><span class="s" style="width:21.99px;letter-spacing:-0.04px;">the </span><span class="s" style="width:35.98px;letter-spacing:-0.18px;">menu </span><span class="s" style="width:14.99px;letter-spacing:0.15px;">at </span><span class="s" style="width:21.99px;letter-spacing:-0.04px;">the </span><span class="s" style="width:34.98px;letter-spacing:-0.27px;">same </span><span class="s" style="width:27.99px;letter-spacing:-0.05px;">time.</span></div>
<div class="t w" style="left:19.8px;top:702px;"><span class="s" style="width:47.93px;letter-spacing:0.18px;">Waiting </span><span class="s" style="width:20.97px;letter-spacing:0.90px;">for </span><span class="s" style="width:21.97px;letter-spacing:-0.05px;">the </span><span class="s" style="width:38.95px;letter-spacing:0.34px;">target </span><span class="s" style="width:36.95px;letter-spacing:0.14px;">game </span><span class="s" style="width:49.93px;letter-spacing:0.07px;">process </span><span class="s" style="width:15.98px;letter-spacing:1.14px;">to </span><span class="s" style="width:34.95px;letter-spacing:-0.17px;">start...</span></div>
<div class="t w" style="left:43.2px;top:33px;letter-spacing:0.08px;">Language/Menu Config</div>
<div class="t w" style="left:182.2px;top:33px;letter-spacing:-0.45px;transform:scaleX(0.921);">(?)</div>
<div class="t" style="left:33.0px;top:57px;letter-spacing:0.15px;">Menu Hotkey</div>
<div class="t w" style="left:143.8px;top:56.5px;letter-spacing:0.05px;">Home</div>
<div class="t" style="left:33.0px;top:77px;letter-spacing:-0.07px;">Exit Hotkey</div>
<div class="t w" style="left:153.8px;top:76.5px;letter-spacing:-0.45px;transform:scaleX(0.851);">F7</div>
<div class="t" style="left:33.0px;top:96px;letter-spacing:-0.19px;">Select Language</div>
<div class="t" style="left:36.0px;top:112px;letter-spacing:-0.45px;">English(en_US)</div>
<div class="t" style="left:33.0px;top:131px;"><span class="s" style="width:37.92px;letter-spacing:-0.44px;">Select </span><span class="s" style="width:36.92px;letter-spacing:0.13px;">Menu </span><span class="s" style="width:26.94px;letter-spacing:-0.45px;">Style</span></div>
<div class="t" style="left:36.0px;top:147px;letter-spacing:-0.17px;">Chinese Red-White</div>
<div class="t w" style="left:45.7px;top:193px;letter-spacing:0.03px;">Screen/Window Config</div>
<div class="t" style="left:33.0px;top:216px;letter-spacing:-0.21px;">Select Render Screen</div>
<div class="t q" style="left:157.0px;top:216px;letter-spacing:-0.45px;transform:scaleX(0.921);">(?)</div>
<div class="t" style="left:36.0px;top:232px;"><span class="s" style="width:96.89px;letter-spacing:0.08px;">Default_Monitor </span><span class="s" style="width:61.93px;letter-spacing:-0.30px;">2560x1440</span></div>
<div class="t" style="left:33.0px;top:248px;letter-spacing:-0.02px;">Enable Transparent</div>
<div class="t q" style="left:148.3px;top:248px;letter-spacing:-0.45px;transform:scaleX(0.921);">(?)</div>
<div class="t" style="left:33.0px;top:264px;letter-spacing:-0.32px;">Enable Vsync</div>
<div class="t q" style="left:111.0px;top:264px;letter-spacing:-0.45px;transform:scaleX(0.921);">(?)</div>
<div class="t" style="left:33.0px;top:280px;letter-spacing:-0.21px;">Draw Fram Rate</div>
<div class="t w" style="left:46.9px;top:321px;letter-spacing:0.01px;">KeyMouse Box Config</div>
<div class="t w" style="left:178.4px;top:321px;letter-spacing:-0.45px;transform:scaleX(0.921);">(?)</div>
<div class="t" style="left:33.0px;top:344px;"><span class="s" style="width:41.98px;letter-spacing:-0.41px;">Status: </span><span class="s" style="width:17.99px;letter-spacing:-0.23px;">All </span><span class="s" style="width:29.98px;letter-spacing:-0.45px;transform:scaleX(0.978);">BOX </span><span class="s" style="width:23.99px;letter-spacing:0.16px;">link </span><span class="s" style="width:31.98px;letter-spacing:0.18px;">failed</span></div>
<div class="t" style="left:33.0px;top:365px;letter-spacing:-0.37px;">IP :</div>
<div class="t q" style="left:53.0px;top:365px;letter-spacing:-0.45px;transform:scaleX(0.921);">(?)</div>
<div class="t" style="left:33.0px;top:385px;letter-spacing:-0.01px;">Port :</div>
<div class="t q" style="left:65.8px;top:385px;letter-spacing:-0.45px;transform:scaleX(0.921);">(?)</div>
<div class="t" style="left:33.0px;top:406px;letter-spacing:-0.43px;">UURA :</div>
<div class="t q" style="left:76.0px;top:406px;letter-spacing:-0.45px;transform:scaleX(0.921);">(?)</div>
<div class="t w" style="left:40.6px;top:431px;letter-spacing:-0.02px;">Auto Link</div>
<div class="t w" style="left:126.7px;top:431px;letter-spacing:0.21px;">Test Move</div>
<div class="t w" style="left:59.3px;top:481px;letter-spacing:0.08px;">Web Radar Config</div>
<div class="t w" style="left:166.7px;top:481px;letter-spacing:-0.45px;transform:scaleX(0.921);">(?)</div>
<div class="t" style="left:33.0px;top:505px;"><span class="s" style="width:42.07px;letter-spacing:-0.40px;">Status: </span><span class="s" style="width:25.04px;letter-spacing:0.40px;">Not </span><span class="s" style="width:60.11px;letter-spacing:0.01px;">connected</span></div>
<div class="t" style="left:33.0px;top:528px;letter-spacing:-0.37px;">IP :</div>
<div class="t q" style="left:53.0px;top:528px;letter-spacing:-0.45px;transform:scaleX(0.921);">(?)</div>
<div class="t" style="left:100.0px;top:528px;letter-spacing:-0.45px;">127.0.0.1</div>
<div class="t" style="left:33.0px;top:549px;letter-spacing:-0.01px;">Port :</div>
<div class="t q" style="left:66.0px;top:549px;letter-spacing:-0.45px;transform:scaleX(0.921);">(?)</div>
<div class="t" style="left:100.0px;top:549px;letter-spacing:-0.37px;">7822</div>
<div class="t w" style="left:53.6px;top:575px;letter-spacing:-0.03px;">Connect Web Radar</div>
<div class="t w" style="left:41.6px;top:625px;letter-spacing:0.12px;">Configs sharing/transfer</div>
<div class="t w" style="left:184.0px;top:625px;letter-spacing:-0.45px;transform:scaleX(0.921);">(?)</div>
<div class="t w" style="left:52.6px;top:655px;letter-spacing:-0.38px;">Read</div>
<div class="t w" style="left:142.9px;top:655px;letter-spacing:-0.45px;transform:scaleX(0.950);">Save</div>
<div class="t" style="left:349.7px;top:33px;letter-spacing:0.01px;">Main Esp Config</div>
<div class="t q" style="left:450.0px;top:33px;letter-spacing:-0.45px;transform:scaleX(0.921);">(?)</div>
<div class="t" style="left:676.8px;top:33px;letter-spacing:0.26px;">Aimbot/Norecoil Config</div>
<div class="t q" style="left:818.2px;top:33px;letter-spacing:-0.45px;transform:scaleX(0.921);">(?)</div>
<div class="t w" style="left:1043.7px;top:33px;letter-spacing:0.02px;">Item Esp Config</div>
<div class="t" style="left:1141.0px;top:33px;letter-spacing:-0.45px;transform:scaleX(0.921);color:#5a5a5a">(?)</div>
<div class="t w" style="left:288.6px;top:65px;letter-spacing:0.02px;">Item Esp Config</div>
<div class="t" style="left:257.2px;top:93px;"><span class="s" style="width:29.93px;letter-spacing:0.21px;">Item </span><span class="s" style="width:24.94px;letter-spacing:-0.45px;transform:scaleX(0.974);">Esp </span><span class="s" style="width:17.96px;letter-spacing:-0.41px;">Dis</span></div>
<div class="t" style="left:384.4px;top:93px;"><span class="s" style="width:18.31px;letter-spacing:-0.22px;">50 </span><span class="s" style="width:12.21px;transform:scaleX(1.126);">M</span></div>
<div class="t" style="left:257.2px;top:125px;letter-spacing:0.04px;">Low Color</div>
<div class="t" style="left:257.2px;top:141px;letter-spacing:0.40px;">Mid Color</div>
<div class="t" style="left:257.2px;top:157px;letter-spacing:0.17px;">High Color</div>
<div class="t" style="left:257.2px;top:173px;letter-spacing:0.02px;">Best Color</div>
<div class="t" style="left:257.2px;top:189px;"><span class="s" style="width:29.94px;letter-spacing:0.22px;">Item </span><span class="s" style="width:28.94px;letter-spacing:-0.36px;">Font </span><span class="s" style="width:22.95px;letter-spacing:-0.45px;transform:scaleX(0.958);">Size</span></div>
<div class="t" style="left:382.5px;top:189px;letter-spacing:0.19px;">12 px</div>
<div class="t" style="left:257.2px;top:221px;letter-spacing:0.01px;">Item Esp Type</div>
<div class="t" style="left:272.8px;top:237px;letter-spacing:0.24px;">Text</div>
<div class="t" style="left:325.4px;top:237px;letter-spacing:0.12px;">Image</div>
<div class="t" style="left:387.7px;top:237px;letter-spacing:0.09px;">Both</div>
<div class="t" style="left:257.2px;top:253px;letter-spacing:0.27px;">Item Image Border</div>
<div class="t" style="left:257.2px;top:285px;"><span class="s" style="width:30.01px;letter-spacing:0.24px;">Item </span><span class="s" style="width:41.01px;letter-spacing:0.22px;">Image </span><span class="s" style="width:30.01px;letter-spacing:-0.45px;transform:scaleX(0.976);">Scale</span></div>
<div class="t" style="left:379.0px;top:285px;letter-spacing:-0.18px;">100 %</div>
<div class="t r" style="left:448.8px;top:61px;letter-spacing:0.12px;">Eqquipment</div>
<div class="t" style="left:465.0px;top:77px;letter-spacing:-0.15px;">Bluechip</div>
<div class="t" style="left:465.0px;top:93px;letter-spacing:-0.17px;">Ghillie</div>
<div class="t" style="left:465.0px;top:109px;letter-spacing:-0.28px;">HelmetLv3</div>
<div class="t" style="left:465.0px;top:125px;letter-spacing:-0.26px;">HelmetLv2</div>
<div class="t" style="left:465.0px;top:141px;letter-spacing:-0.31px;">HelmetLv1</div>
<div class="t" style="left:465.0px;top:157px;letter-spacing:-0.07px;">ArmorLv3</div>
<div class="t" style="left:465.0px;top:173px;letter-spacing:-0.05px;">ArmorLv2</div>
<div class="t" style="left:465.0px;top:189px;letter-spacing:-0.11px;">ArmorLv1</div>
<div class="t" style="left:465.0px;top:205px;letter-spacing:-0.29px;">BlueBack</div>
<div class="t" style="left:465.0px;top:221px;letter-spacing:-0.45px;">BackLv3</div>
<div class="t" style="left:465.0px;top:237px;letter-spacing:-0.45px;">BackLv2</div>
<div class="t" style="left:465.0px;top:253px;letter-spacing:-0.45px;">BackLv1</div>
<div class="t r" style="left:448.8px;top:285px;letter-spacing:0.06px;">Throwable</div>
<div class="t" style="left:465.0px;top:301px;letter-spacing:-0.26px;">CoverFlare</div>
<div class="t" style="left:465.0px;top:317px;letter-spacing:-0.33px;">Bluezone.G</div>
<div class="t" style="left:465.0px;top:333px;letter-spacing:-0.10px;">Grenade</div>
<div class="t" style="left:465.0px;top:349px;letter-spacing:-0.12px;">Smoke</div>
<div class="t" style="left:465.0px;top:365px;letter-spacing:0.62px;">Molotov</div>
<div class="t" style="left:465.0px;top:381px;letter-spacing:-0.42px;">FlashBang</div>
<div class="t" style="left:465.0px;top:397px;letter-spacing:-0.28px;">Decoy.G</div>
<div class="t" style="left:465.0px;top:413px;letter-spacing:-0.16px;">C4Bomb</div>
<div class="t" style="left:465.0px;top:429px;letter-spacing:-0.36px;">Sticky.G</div>
<div class="t" style="left:465.0px;top:445px;letter-spacing:0.01px;">SpikeTrap</div>
<div class="t r" style="left:448.8px;top:477px;letter-spacing:-0.07px;">Usable</div>
<div class="t" style="left:465.0px;top:493px;letter-spacing:0.07px;">Transmitter</div>
<div class="t" style="left:465.0px;top:509px;letter-spacing:-0.17px;">Emergency</div>
<div class="t" style="left:465.0px;top:525px;letter-spacing:-0.34px;">SecretKey</div>
<div class="t" style="left:465.0px;top:541px;letter-spacing:0.26px;">Rubberboat</div>
<div class="t" style="left:465.0px;top:557px;letter-spacing:-0.36px;">Bicycle</div>
<div class="t" style="left:465.0px;top:573px;letter-spacing:-0.27px;">JerryCan</div>
<div class="t" style="left:465.0px;top:589px;letter-spacing:-0.17px;">BulletShield</div>
<div class="t r" style="left:560.8px;top:61px;letter-spacing:0.26px;">Medical</div>
<div class="t" style="left:577.0px;top:77px;letter-spacing:-0.23px;">EasterBox</div>
<div class="t" style="left:577.0px;top:93px;letter-spacing:-0.45px;">SelfRevive</div>
<div class="t" style="left:577.0px;top:109px;letter-spacing:-0.01px;">BattleKit</div>
<div class="t" style="left:577.0px;top:125px;letter-spacing:-0.25px;">RevivalKit</div>
<div class="t" style="left:577.0px;top:141px;letter-spacing:0.39px;">MedKit</div>
<div class="t" style="left:577.0px;top:157px;letter-spacing:-0.18px;">FirstAid</div>
<div class="t" style="left:577.0px;top:173px;letter-spacing:-0.04px;">Bandage</div>
<div class="t" style="left:577.0px;top:189px;letter-spacing:-0.03px;">Adrenaline</div>
<div class="t" style="left:577.0px;top:205px;letter-spacing:-0.23px;">PainKiller</div>
<div class="t" style="left:577.0px;top:221px;letter-spacing:-0.07px;">EnergyDrink</div>
<div class="t r" style="left:560.8px;top:253px;letter-spacing:0.17px;">OtherWeapon</div>
<div class="t" style="left:577.0px;top:269px;letter-spacing:0.13px;">Drone</div>
<div class="t" style="left:577.0px;top:285px;letter-spacing:-0.38px;">TacPack</div>
<div class="t" style="left:577.0px;top:301px;letter-spacing:-0.08px;">TraumaBag</div>
<div class="t" style="left:577.0px;top:317px;letter-spacing:-0.09px;">SpotScope</div>
<div class="t" style="left:577.0px;top:333px;letter-spacing:0.05px;">Bazooka</div>
<div class="t" style="left:577.0px;top:349px;letter-spacing:0.70px;">Mortar</div>
<div class="t" style="left:577.0px;top:365px;letter-spacing:-0.03px;">RepairKit</div>
<div class="t" style="left:577.0px;top:381px;letter-spacing:0.41px;">M79</div>
<div class="t" style="left:577.0px;top:397px;letter-spacing:-0.45px;">StunGun</div>
<div class="t r" style="left:560.8px;top:429px;letter-spacing:-0.11px;">Sniper</div>
<div class="t" style="left:577.0px;top:445px;letter-spacing:-0.45px;transform:scaleX(0.966);">L6BigSR</div>
<div class="t" style="left:577.0px;top:461px;letter-spacing:0.21px;">AWM</div>
<div class="t" style="left:577.0px;top:477px;letter-spacing:0.41px;">M24</div>
<div class="t" style="left:577.0px;top:493px;letter-spacing:-0.07px;">Kar98k</div>
<div class="t" style="left:577.0px;top:509px;letter-spacing:0.36px;">Mosin</div>
<div class="t" style="left:577.0px;top:525px;letter-spacing:-0.18px;">Win94</div>
<div class="t" style="left:577.0px;top:541px;letter-spacing:0.08px;">Crossbow</div>
<div class="t" style="left:577.0px;top:557px;letter-spacing:-0.08px;">Zipline</div>
<div class="t r" style="left:672.8px;top:61px;letter-spacing:-0.10px;">SniperAttach</div>
<div class="t" style="left:689.0px;top:77px;letter-spacing:-0.45px;transform:scaleX(0.976);">SuppSR</div>
<div class="t" style="left:689.0px;top:93px;letter-spacing:-0.45px;">CompSR</div>
<div class="t" style="left:689.0px;top:109px;letter-spacing:-0.45px;transform:scaleX(0.916);">FlasSR</div>
<div class="t" style="left:689.0px;top:125px;letter-spacing:-0.45px;transform:scaleX(0.952);">ExQdSR</div>
<div class="t" style="left:689.0px;top:141px;letter-spacing:-0.45px;transform:scaleX(0.881);">ExSR</div>
<div class="t" style="left:689.0px;top:157px;letter-spacing:-0.45px;transform:scaleX(0.967);">QdSR</div>
<div class="t" style="left:689.0px;top:173px;letter-spacing:-0.45px;">BulletsSR</div>
<div class="t" style="left:689.0px;top:189px;letter-spacing:-0.40px;">CheekPad</div>
<div class="t" style="left:689.0px;top:205px;letter-spacing:-0.08px;">Quiver</div>
<div class="t r" style="left:672.8px;top:237px;letter-spacing:0.03px;">MarksmanRifle</div>
<div class="t" style="left:689.0px;top:253px;letter-spacing:0.38px;">Mk14</div>
<div class="t" style="left:689.0px;top:269px;letter-spacing:0.12px;">Dragunov</div>
<div class="t" style="left:689.0px;top:285px;letter-spacing:-0.45px;transform:scaleX(0.860);">SLR</div>
<div class="t" style="left:689.0px;top:301px;letter-spacing:-0.45px;transform:scaleX(0.873);">SKS</div>
<div class="t" style="left:689.0px;top:317px;letter-spacing:0.38px;">Mini</div>
<div class="t" style="left:689.0px;top:333px;letter-spacing:-0.45px;transform:scaleX(0.978);">QBU</div>
<div class="t" style="left:689.0px;top:349px;letter-spacing:0.38px;">Mk12</div>
<div class="t" style="left:689.0px;top:365px;letter-spacing:0.38px;">Mk47</div>
<div class="t" style="left:689.0px;top:381px;letter-spacing:0.31px;">M16</div>
<div class="t r" style="left:672.8px;top:413px;letter-spacing:-0.23px;">556Rifle</div>
<div class="t" style="left:689.0px;top:429px;letter-spacing:-0.45px;transform:scaleX(0.960);">AUG</div>
<div class="t" style="left:689.0px;top:445px;letter-spacing:0.18px;">M416</div>
<div class="t" style="left:689.0px;top:461px;letter-spacing:-0.45px;transform:scaleX(0.896);">SCAR</div>
<div class="t" style="left:689.0px;top:477px;letter-spacing:-0.45px;">QBZ</div>
<div class="t" style="left:689.0px;top:493px;letter-spacing:-0.45px;transform:scaleX(0.956);">G36C</div>
<div class="t" style="left:689.0px;top:509px;letter-spacing:-0.45px;transform:scaleX(0.972);">FAMAS</div>
<div class="t" style="left:689.0px;top:525px;letter-spacing:-0.45px;">K2</div>
<div class="t" style="left:689.0px;top:541px;letter-spacing:0.18px;">M249</div>
<div class="t r" style="left:784.8px;top:61px;letter-spacing:-0.25px;">762Rifle</div>
<div class="t" style="left:801.0px;top:77px;letter-spacing:-0.17px;">Groza</div>
<div class="t" style="left:801.0px;top:93px;letter-spacing:-0.45px;transform:scaleX(0.936);">ACE32</div>
<div class="t" style="left:801.0px;top:109px;letter-spacing:0.13px;">M762</div>
<div class="t" style="left:801.0px;top:125px;letter-spacing:-0.45px;">AK47</div>
<div class="t" style="left:801.0px;top:141px;letter-spacing:-0.45px;transform:scaleX(0.963);">DP28</div>
<div class="t" style="left:801.0px;top:157px;letter-spacing:-0.22px;">MG3</div>
<div class="t r" style="left:784.8px;top:189px;letter-spacing:-0.15px;">RifleAttach</div>
<div class="t" style="left:801.0px;top:205px;letter-spacing:-0.45px;">SuppAR</div>
<div class="t" style="left:801.0px;top:221px;letter-spacing:-0.38px;">CompAR</div>
<div class="t" style="left:801.0px;top:237px;letter-spacing:-0.45px;">MuzzAR</div>
<div class="t" style="left:801.0px;top:253px;letter-spacing:-0.45px;transform:scaleX(0.937);">FlasAR</div>
<div class="t" style="left:801.0px;top:269px;letter-spacing:-0.45px;transform:scaleX(0.970);">ExQdAR</div>
<div class="t" style="left:801.0px;top:285px;letter-spacing:-0.45px;transform:scaleX(0.907);">ExAR</div>
<div class="t" style="left:801.0px;top:301px;letter-spacing:-0.45px;">QdAR</div>
<div class="t" style="left:801.0px;top:317px;letter-spacing:-0.45px;">StockAR</div>
<div class="t" style="left:801.0px;top:333px;letter-spacing:-0.43px;">StockHAR</div>
<div class="t r" style="left:784.8px;top:365px;letter-spacing:-0.03px;">Shotgun</div>
<div class="t" style="left:801.0px;top:381px;letter-spacing:-0.30px;">O12</div>
<div class="t" style="left:801.0px;top:397px;letter-spacing:-0.30px;">O12</div>
<div class="t" style="left:801.0px;top:413px;letter-spacing:-0.03px;">Sawnoff</div>
<div class="t" style="left:801.0px;top:429px;letter-spacing:-0.30px;">O12</div>
<div class="t" style="left:801.0px;top:445px;letter-spacing:-0.30px;">O12</div>
<div class="t" style="left:801.0px;top:461px;letter-spacing:-0.45px;transform:scaleX(0.953);">S12K</div>
<div class="t r" style="left:784.8px;top:493px;letter-spacing:-0.13px;">ShotAttach</div>
<div class="t" style="left:801.0px;top:509px;letter-spacing:-0.16px;">Choke</div>
<div class="t" style="left:801.0px;top:525px;letter-spacing:0.08px;">Duckbill</div>
<div class="t r" style="left:896.8px;top:61px;letter-spacing:-0.45px;">SMG</div>
<div class="t" style="left:913.0px;top:77px;letter-spacing:-0.45px;transform:scaleX(0.948);">P90</div>
<div class="t" style="left:913.0px;top:93px;letter-spacing:-0.45px;transform:scaleX(0.920);">JS9</div>
<div class="t" style="left:913.0px;top:109px;letter-spacing:-0.38px;">UMP45</div>
<div class="t" style="left:913.0px;top:125px;letter-spacing:0.11px;">Thompson</div>
<div class="t" style="left:913.0px;top:141px;letter-spacing:-0.45px;">UZI</div>
<div class="t" style="left:913.0px;top:157px;letter-spacing:-0.24px;">UziPro</div>
<div class="t" style="left:913.0px;top:173px;letter-spacing:0.20px;">Vector</div>
<div class="t" style="left:913.0px;top:189px;letter-spacing:-0.45px;transform:scaleX(0.873);">VSS</div>
<div class="t" style="left:913.0px;top:205px;letter-spacing:-0.45px;transform:scaleX(0.913);">PP19</div>
<div class="t" style="left:913.0px;top:221px;letter-spacing:-0.45px;">MP5K</div>
<div class="t" style="left:913.0px;top:237px;letter-spacing:-0.40px;">MP9</div>
<div class="t r" style="left:896.8px;top:269px;letter-spacing:-0.11px;">Pistol</div>
<div class="t" style="left:913.0px;top:285px;letter-spacing:-0.43px;">FlareGun</div>
<div class="t" style="left:913.0px;top:301px;letter-spacing:-0.16px;">FlareAmmo</div>
<div class="t" style="left:913.0px;top:317px;letter-spacing:-0.19px;">DesertEag</div>
<div class="t" style="left:913.0px;top:333px;letter-spacing:-0.08px;">vz61Skorp</div>
<div class="t" style="left:913.0px;top:349px;letter-spacing:-0.45px;transform:scaleX(0.956);">G18C</div>
<div class="t" style="left:913.0px;top:365px;letter-spacing:-0.45px;transform:scaleX(0.953);">R45</div>
<div class="t" style="left:913.0px;top:381px;letter-spacing:-0.45px;transform:scaleX(0.978);">R1895</div>
<div class="t" style="left:913.0px;top:397px;letter-spacing:-0.45px;transform:scaleX(0.952);">P92</div>
<div class="t" style="left:913.0px;top:413px;letter-spacing:-0.45px;">P1911</div>
<div class="t r" style="left:896.8px;top:445px;letter-spacing:-0.28px;">SMGAttach</div>
<div class="t" style="left:913.0px;top:461px;letter-spacing:-0.31px;">SuppSMG</div>
<div class="t" style="left:913.0px;top:477px;letter-spacing:-0.19px;">CompSMG</div>
<div class="t" style="left:913.0px;top:493px;letter-spacing:-0.45px;transform:scaleX(0.975);">FlasSMG</div>
<div class="t" style="left:913.0px;top:509px;letter-spacing:-0.45px;">ExQdSMG</div>
<div class="t" style="left:913.0px;top:525px;letter-spacing:-0.45px;transform:scaleX(0.955);">ExSMG</div>
<div class="t" style="left:913.0px;top:541px;letter-spacing:-0.22px;">QdSMG</div>
<div class="t" style="left:913.0px;top:557px;letter-spacing:-0.25px;">StockUZI</div>
<div class="t r" style="left:1008.8px;top:61px;letter-spacing:-0.01px;">OtherAttach</div>
<div class="t" style="left:1025.0px;top:77px;letter-spacing:-0.04px;">ThumbGrip</div>
<div class="t" style="left:1025.0px;top:93px;">LightGrip</div>
<div class="t" style="left:1025.0px;top:109px;letter-spacing:0.19px;">Foregrip</div>
<div class="t" style="left:1025.0px;top:125px;letter-spacing:0.02px;">HalfGrip</div>
<div class="t" style="left:1025.0px;top:141px;letter-spacing:0.09px;">AngledGrip</div>
<div class="t" style="left:1025.0px;top:157px;letter-spacing:-0.23px;">LowerLaser</div>
<div class="t r" style="left:1008.8px;top:189px;letter-spacing:-0.24px;">Scope</div>
<div class="t" style="left:1025.0px;top:205px;letter-spacing:-0.17px;">SideSight</div>
<div class="t" style="left:1025.0px;top:221px;letter-spacing:0.07px;">DotSight</div>
<div class="t" style="left:1025.0px;top:237px;letter-spacing:0.11px;">HoloSight</div>
<div class="t" style="left:1025.0px;top:253px;letter-spacing:-0.09px;">ThermalSight</div>
<div class="t" style="left:1025.0px;top:269px;letter-spacing:-0.26px;">Scope15x</div>
<div class="t" style="left:1025.0px;top:285px;letter-spacing:-0.26px;">Scope8x</div>
<div class="t" style="left:1025.0px;top:301px;letter-spacing:-0.24px;">Scope6x</div>
<div class="t" style="left:1025.0px;top:317px;letter-spacing:-0.27px;">Scope4x</div>
<div class="t" style="left:1025.0px;top:333px;letter-spacing:-0.27px;">Scope3x</div>
<div class="t" style="left:1025.0px;top:349px;letter-spacing:-0.27px;">Scope2x</div>
<div class="t r" style="left:1008.8px;top:381px;letter-spacing:0.16px;">Melee</div>
<div class="t" style="left:1025.0px;top:397px;letter-spacing:0.03px;">Cowbar</div>
<div class="t" style="left:1025.0px;top:413px;letter-spacing:-0.34px;">Sickle</div>
<div class="t" style="left:1025.0px;top:429px;letter-spacing:0.02px;">Machete</div>
<div class="t" style="left:1025.0px;top:445px;letter-spacing:-0.42px;">Pickaxe</div>
<div class="t" style="left:1025.0px;top:461px;letter-spacing:-0.45px;transform:scaleX(0.957);">Pan</div>
<div class="t r" style="left:1120.8px;top:61px;letter-spacing:-0.03px;">Others</div>
<div class="t" style="left:1137.0px;top:77px;letter-spacing:0.44px;">AmmoMortar</div>
<div class="t" style="left:1137.0px;top:93px;letter-spacing:-0.37px;">BR Coin</div>
<div class="t" style="left:1137.0px;top:109px;letter-spacing:0.13px;">GoldGold</div>
<div class="t" style="left:1137.0px;top:125px;letter-spacing:0.07px;">StrongBox</div>
<div class="t" style="left:1137.0px;top:141px;letter-spacing:-0.26px;">CableCar</div>
<div class="t" style="left:1137.0px;top:157px;letter-spacing:0.03px;">Train</div>
<div class="t" style="left:1137.0px;top:173px;letter-spacing:0.25px;">Cupboard</div>
<div class="t" style="left:1137.0px;top:189px;letter-spacing:-0.45px;">GasPump</div>
<div class="t" style="left:1137.0px;top:205px;letter-spacing:-0.12px;">BearBox</div>
<div class="t" style="left:1137.0px;top:221px;letter-spacing:-0.07px;">AttaSupp</div>
<div class="t" style="left:1137.0px;top:237px;letter-spacing:-0.03px;">WeapSupp</div>
<div class="t" style="left:1137.0px;top:253px;letter-spacing:-0.25px;">RareSupp</div>
<div class="t" style="left:1137.0px;top:269px;letter-spacing:-0.08px;">CargoShip</div>
<div class="a" style="left:1056px;top:447px;width:192px;height:192px;background:#F0F0E6"></div>
<div class="pn" style="left:1056px;top:447px;width:192px;height:192px"><div class="ph"></div></div>
<div class="sel" style="left:1072px;top:493px;width:160px"></div>
<svg class="a" style="left:1219px;top:497px" width="10" height="8" viewBox="0 0 10 8"><path d="M0.5 0.9 L9.2 0.9 L4.85 6.5 Z" fill="#151515"/></svg>
<div class="sl" style="left:1072px;top:529px;width:160px"><i style="width:160px"></i></div>
<div class="btn" style="left:1169px;top:545px;width:62.3px;height:15px;border-radius:7.5px;transform:translate(0.5px,0.4px)"></div>
<div class="btn" style="left:1169px;top:561px;width:62.3px;height:15px;border-radius:7.5px;transform:translate(0.5px,0.4px)"></div>
<div class="btn" style="left:1169px;top:577px;width:62.3px;height:15px;border-radius:7.5px;transform:translate(0.5px,0.4px)"></div>
<div class="btn" style="left:1169px;top:593px;width:62.3px;height:15px;border-radius:7.5px;transform:translate(0.5px,0.4px)"></div>
<div class="btn" style="left:1169px;top:609px;width:62.3px;height:15px;border-radius:7.5px;transform:translate(0.5px,0.4px)"></div>
<div class="btn" style="left:1056px;top:650px;width:192px;height:26px;border-radius:6.5px;"></div>
<div class="t w" style="left:1108.7px;top:449px;letter-spacing:-0.11px;">ItemEsp Preset</div>
<div class="t w" style="left:1196.7px;top:449px;letter-spacing:-0.45px;transform:scaleX(0.921);">(?)</div>
<div class="t r" style="left:1072.9px;top:477px;letter-spacing:-0.15px;">Select Current Preset</div>
<div class="t" style="left:1076.0px;top:493px;letter-spacing:-0.11px;">Items Preset B</div>
<div class="t" style="left:1072.9px;top:512px;letter-spacing:-0.25px;">Presets Enable</div>
<div class="t" style="left:1221.5px;top:512px;">4</div>
<div class="t" style="left:1072.9px;top:545px;letter-spacing:-0.35px;">Switch Key</div>
<div class="t q" style="left:1134.9px;top:545px;letter-spacing:-0.45px;transform:scaleX(0.921);">(?)</div>
<div class="t w" style="left:1185.9px;top:544.5px;letter-spacing:-0.45px;">PgDn</div>
<div class="t" style="left:1072.9px;top:561px;letter-spacing:-0.11px;">Preset A Key</div>
<div class="t w" style="left:1181.7px;top:560.5px;letter-spacing:-0.16px;">Num 1</div>
<div class="t" style="left:1072.9px;top:577px;letter-spacing:-0.26px;">Preset B Key</div>
<div class="t w" style="left:1181.7px;top:576.5px;letter-spacing:0.04px;">Num 2</div>
<div class="t" style="left:1072.9px;top:593px;letter-spacing:-0.33px;">Preset C Key</div>
<div class="t w" style="left:1181.7px;top:592.5px;letter-spacing:-0.07px;">Num 3</div>
<div class="t" style="left:1072.9px;top:609px;letter-spacing:-0.22px;">Preset D Key</div>
<div class="t w" style="left:1181.7px;top:608.5px;letter-spacing:-0.07px;">Num 4</div>
<div class="t w" style="left:1112.8px;top:654px;letter-spacing:-0.14px;">Reset Default</div>
<div class="t w" style="left:1192.2px;top:654px;letter-spacing:-0.45px;transform:scaleX(0.921);">(?)</div>
</body></html>
